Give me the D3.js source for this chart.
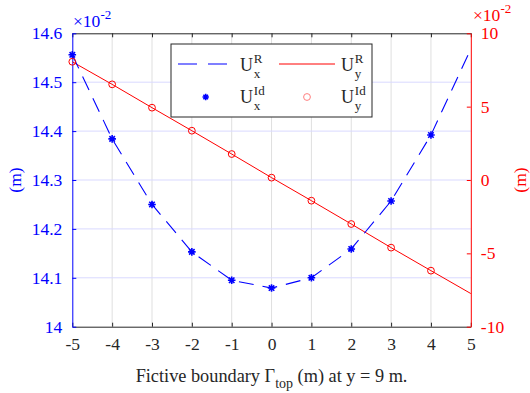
<!DOCTYPE html>
<html>
<head>
<meta charset="utf-8">
<script src="https://cdn.jsdelivr.net/npm/d3@7"></script>
<style>
body { margin: 0; background: #fff; }
text { font-family: "Liberation Serif", "Times New Roman", serif; }
</style>
</head>
<body>
<svg id="chart" width="530" height="393"></svg>
<script>
// x positions (m) and the two series
var xCurve = [-5, -4, -3, -2, -1, 0, 1, 2, 3, 4, 5];
var uxR = [14.556, 14.384, 14.250, 14.153, 14.095, 14.079, 14.100, 14.159, 14.257, 14.392, 14.568];
var xMarks = [-5, -4, -3, -2, -1, 0, 1, 2, 3, 4];
var uxId = [14.556, 14.384, 14.250, 14.153, 14.095, 14.079, 14.100, 14.159, 14.257, 14.392];
var uyR = [8.06, 6.52, 4.93, 3.36, 1.77, 0.16, -1.41, -3.00, -4.61, -6.18, -7.74];
var uyId = [8.06, 6.52, 4.93, 3.36, 1.77, 0.16, -1.41, -3.00, -4.61, -6.18];
var xTicks = [-5, -4, -3, -2, -1, 0, 1, 2, 3, 4, 5];
var leftTicks = [14, 14.1, 14.2, 14.3, 14.4, 14.5, 14.6];
var rightTicks = [-10, -5, 0, 5, 10];

var blue = "#0000ff";
var red = "#ff0000";
var axisGray = "#262626";
var fs = 17.5;

var svg = d3.select("#chart");
var pL = 72.3, pT = 33.3, pR = 470.8, pB = 326.7;

var x = d3.scaleLinear().domain([-5, 5]).range([pL, pR]);
var yL = d3.scaleLinear().domain([14, 14.6]).range([pB, pT]);
var yR = d3.scaleLinear().domain([-10, 10]).range([pB, pT]);

// grid
svg.append("g").selectAll("line").data(xTicks.slice(1, -1)).enter().append("line")
	.attr("x1", function (d) { return x(d); }).attr("x2", function (d) { return x(d); })
	.attr("y1", pT).attr("y2", pB)
	.attr("stroke", "#dfdfdf").attr("stroke-width", 1);
svg.append("g").selectAll("line").data(leftTicks.slice(1, -1)).enter().append("line")
	.attr("x1", pL).attr("x2", pR)
	.attr("y1", function (d) { return yL(d); }).attr("y2", function (d) { return yL(d); })
	.attr("stroke", "#d9d9ff").attr("stroke-width", 1);

// axes
function styleAxis(g, color) {
	g.select(".domain").attr("stroke", color);
	g.selectAll(".tick line").attr("stroke", color);
	g.selectAll(".tick text").attr("fill", color).style("font-size", fs + "px")
		.style("font-family", "'Liberation Serif', 'Times New Roman', serif");
}
var fmtX = function (d) { return d < 0 ? "-" + Math.abs(d) : "" + d; };

var gB = svg.append("g").attr("transform", "translate(0," + pB + ")")
	.call(d3.axisBottom(x).tickValues(xTicks).tickFormat(fmtX).tickSizeInner(-4).tickSizeOuter(0).tickPadding(11));
styleAxis(gB, axisGray);
var gT = svg.append("g").attr("transform", "translate(0," + pT + ")")
	.call(d3.axisTop(x).tickValues(xTicks).tickFormat("").tickSizeInner(-4).tickSizeOuter(0));
styleAxis(gT, axisGray);
var gL = svg.append("g").attr("transform", "translate(" + pL + ",0)")
	.call(d3.axisLeft(yL).tickValues(leftTicks).tickFormat(function (d) { return d3.format(".1f")(d).replace(".0", ""); }).tickSizeInner(-4).tickSizeOuter(0).tickPadding(10));
styleAxis(gL, blue);
var gR = svg.append("g").attr("transform", "translate(" + pR + ",0)")
	.call(d3.axisRight(yR).tickValues(rightTicks).tickFormat(fmtX).tickSizeInner(-4).tickSizeOuter(0).tickPadding(10));
styleAxis(gR, red);

// exponent labels
function expLabel(px, py, color) {
	var t = svg.append("text").attr("x", px).attr("y", py).attr("fill", color).style("font-size", fs + "px");
	t.append("tspan").text("\u00d710");
	t.append("tspan").attr("dy", -8).style("font-size", "13px").text("-2");
}
expLabel(73, 27, blue);
expLabel(473, 21, red);

// y labels
svg.append("text").attr("transform", "translate(21,180) rotate(-90)").attr("text-anchor", "middle")
	.attr("fill", blue).style("font-size", fs + "px").text("(m)");
svg.append("text").attr("transform", "translate(526,180) rotate(-90)").attr("text-anchor", "middle")
	.attr("fill", red).style("font-size", fs + "px").text("(m)");

// x label
var xl = svg.append("text").attr("x", (pL + pR) / 2).attr("y", 382).attr("text-anchor", "middle")
	.attr("fill", axisGray).style("font-size", "18.3px");
xl.append("tspan").text("Fictive boundary \u0393");
xl.append("tspan").attr("dy", 6).style("font-size", "14px").text("top");
xl.append("tspan").attr("dy", -6).text(" (m) at y = 9 m.");

// series
var lineL = d3.line().x(function (d, i) { return x(xCurve[i]); }).y(function (d) { return yL(d); });
var lineR = d3.line().x(function (d, i) { return x(xCurve[i]); }).y(function (d) { return yR(d); });

svg.append("path").datum(uyR).attr("d", lineR).attr("fill", "none").attr("stroke", red).attr("stroke-width", 1);
svg.append("path").datum(uxR).attr("d", lineL).attr("fill", "none").attr("stroke", blue)
	.attr("stroke-width", 1.1).attr("stroke-dasharray", "15,9");

function star(g, cx, cy, r) {
	var p = "M" + (cx - r) + "," + cy + "h" + 2 * r + "M" + cx + "," + (cy - r) + "v" + 2 * r;
	var k = r * 0.72;
	p += "M" + (cx - k) + "," + (cy - k) + "l" + 2 * k + "," + 2 * k;
	p += "M" + (cx - k) + "," + (cy + k) + "l" + 2 * k + "," + (-2 * k);
	g.append("path").attr("d", p).attr("stroke", blue).attr("stroke-width", 1.6).attr("fill", "none");
}
var gs = svg.append("g");
for (var i = 0; i < xMarks.length; i++) {
	star(gs, x(xMarks[i]), yL(uxId[i]), 3.8);
}
svg.append("g").selectAll("circle").data(uyId).enter().append("circle")
	.attr("cx", function (d, i) { return x(xMarks[i]); })
	.attr("cy", function (d) { return yR(d); })
	.attr("r", 3.4).attr("fill", "none").attr("stroke", red).attr("stroke-width", 1);

// legend
var lg = svg.append("g");
lg.append("rect").attr("x", 171).attr("y", 44).attr("width", 201).attr("height", 73)
	.attr("fill", "#fff").attr("stroke", axisGray).attr("stroke-width", 1);
lg.append("line").attr("x1", 178).attr("x2", 227).attr("y1", 64).attr("y2", 64)
	.attr("stroke", blue).attr("stroke-width", 1.1).attr("stroke-dasharray", "19,11");
lg.append("line").attr("x1", 279).attr("x2", 335).attr("y1", 64).attr("y2", 64)
	.attr("stroke", red).attr("stroke-width", 1);
star(lg, 205.7, 97, 3.2);
lg.append("circle").attr("cx", 307).attr("cy", 97).attr("r", 3.4).attr("fill", "none").attr("stroke", "#ff8080");

function legendLabel(px, py, sub, sup) {
	lg.append("text").attr("x", px).attr("y", py).attr("fill", axisGray).style("font-size", "18px").text("U");
	lg.append("text").attr("x", px + 13.8).attr("y", py - 8.5).attr("fill", axisGray).style("font-size", "13px").text(sup);
	lg.append("text").attr("x", px + 13.8).attr("y", py + 7).attr("fill", axisGray).style("font-size", "13px").text(sub);
}
legendLabel(240, 71, "x", "R");
legendLabel(341, 71, "y", "R");
legendLabel(240, 103, "x", "Id");
legendLabel(341, 103, "y", "Id");
</script>
</body>
</html>
